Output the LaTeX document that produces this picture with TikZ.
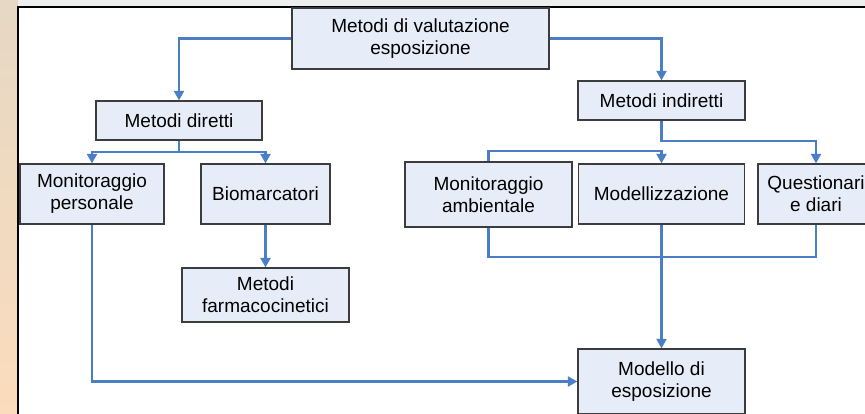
\documentclass[tikz,border=0pt]{standalone}
\usepackage{fontspec}
\setmainfont{Liberation Sans}
\usetikzlibrary{arrows.meta}

\definecolor{boxfill}{HTML}{E7EDF8}
\definecolor{boxline}{HTML}{3C3C3C}
\definecolor{linkblue}{HTML}{4A7EC5}
\definecolor{stripgray}{HTML}{EDEFEE}
\definecolor{stripup}{HTML}{E6D8C4}
\definecolor{stripdown}{HTML}{FBDCBC}

\begin{document}
\begin{tikzpicture}[x=1pt, y=-1pt,
    method/.style={draw=boxline, fill=boxfill, line width=1.3pt, inner sep=0pt,
      align=center, font=\fontsize{19}{22}\selectfont},
    link/.style={draw=linkblue, line width=2.2pt, ->, >={Triangle[length=9.5pt,width=10pt]}}]
    \useasboundingbox (0,0) rectangle (865,413);
    \clip (0,0) rectangle (865,413);
    % background and frame
    \fill[stripgray] (0,0) rectangle (865,7);
    \shade[top color=stripup, bottom color=stripdown] (0,0) rectangle (18,413);
    \draw[line width=2pt, fill=white] (17.5,6.5) rectangle (900,450);

    \node[method, minimum width=257pt, minimum height=61pt] (top) at (420.5, 38.5) {Metodi di valutazione\\esposizione};
    \node[method, minimum width=166pt, minimum height=39pt] (direct) at (179, 120.5) {Metodi diretti};
    \node[method, minimum width=167pt, minimum height=39pt] (indirect) at (661.5, 100.5) {Metodi indiretti};
    \node[method, minimum width=144pt, minimum height=60pt] (personal) at (92, 194) {Monitoraggio\\personale};
    \node[method, minimum width=129pt, minimum height=60pt] (biomark) at (265.5, 194) {Biomarcatori};
    \node[method, minimum width=167pt, minimum height=54pt] (pharma) at (265.5, 295) {Metodi\\farmacocinetici};
    \node[method, minimum width=167pt, minimum height=65pt] (ambient) at (488.5, 194.5) {Monitoraggio\\ambientale};
    \node[method, minimum width=166pt, minimum height=60pt] (modelling) at (661.5, 194) {Modellizzazione};
    \node[method, minimum width=116pt, minimum height=60pt] (survey) at (816, 194) {Questionari\\e diari};
    \node[method, minimum width=167pt, minimum height=65pt] (exposure) at (661.5, 381.5) {Modello di\\esposizione};

    \coordinate (dsplit) at (179, 152);
    \coordinate (isplit) at (661.5, 141);

    \draw[link] (top.west) -| (direct.north);
    \draw[link] (top.east) -| (indirect.north);
    \draw[link] (direct.south) -- (dsplit) -| (personal.north);
    \draw[link] (dsplit) -| (biomark.north);
    \draw[link] (biomark) to (pharma);
    \draw[link] (indirect.south) -- (isplit) -| (survey.north);
    \draw[link] (ambient.north) -- ++(0,-10) -| (modelling.north);
    \draw[link,-] (ambient.south) -- ++(0,29) -| (survey.south);
    \draw[link] (modelling) to (exposure);
    \draw[link] (personal.south) |- (exposure.west);
\end{tikzpicture}
\end{document}
